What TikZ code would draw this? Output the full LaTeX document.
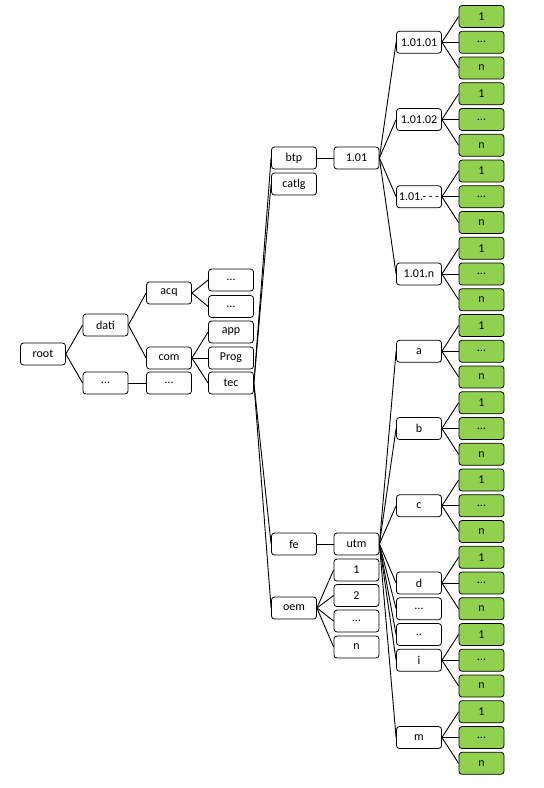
\documentclass[tikz,border=0pt]{standalone}
\usepackage{fontspec}
\setmainfont{Carlito}
\definecolor{leafgreen}{HTML}{92D050}
\tikzset{
  box/.style={rectangle, draw, rounded corners=3pt, line width=0.8pt, minimum width=45pt, minimum height=22pt, inner sep=1pt, font=\fontsize{12}{14}\selectfont},
  leaf/.style={box, fill=leafgreen},
  link/.style={line width=0.9pt}
}

\begin{document}
\begin{tikzpicture}[x=1pt, y=-1pt]
\useasboundingbox (0,0) rectangle (544,788);

% left part of the tree
\node[box] (root) at (43,354) {root};
\node[box] (dati) at (105.5,325) {dati};
\node[box] (rdots) at (105.5,383) {\dots};
\node[box] (acq) at (169,293) {acq};
\node[box] (com) at (169,358) {com};
\node[box] (ddots) at (169,383) {\dots};
\node[box] (acqa) at (231,280) {\dots};
\node[box] (acqb) at (231,306.5) {\dots};
\node[box] (app) at (231,332) {app};
\node[box] (prog) at (231,358) {Prog};
\node[box] (tec) at (231,383) {tec};

\node[box] (btp) at (294,158) {btp};
\node[box] (catlg) at (294,184) {catlg};
\node[box] (fe) at (294,544) {fe};
\node[box] (oem) at (294,608) {oem};

\node[box] (v101) at (356.5,158) {1.01};
\node[box] (utm) at (356.5,544) {utm};
\node[box] (oem1) at (356.5,570) {1};
\node[box] (oem2) at (356.5,595.5) {2};
\node[box] (oem3) at (356.5,621) {\dots};
\node[box] (oemn) at (356.5,647) {n};

% third level under 1.01 and utm
\node[box] (v1) at (419,42.25) {1.01.01};
\node[box] (v2) at (419,119.5) {1.01.02};
\node[box] (v3) at (419,196.75) {1.01.- - -};
\node[box] (vn) at (419,274) {1.01.n};
\node[box] (ua) at (419,351.25) {a};
\node[box] (ub) at (419,428.5) {b};
\node[box] (uc) at (419,505.75) {c};
\node[box] (ud) at (419,583) {d};
\node[box] (ud1) at (419,608.75) {\dots};
\node[box] (ud2) at (419,634.5) {..};
\node[box] (ui) at (419,660.25) {i};
\node[box] (um) at (419,737.5) {m};

\draw[link] (root.east) -- (dati.west); \draw[link] (root.east) -- (rdots.west);
\draw[link] (dati.east) -- (acq.west); \draw[link] (dati.east) -- (com.west);
\draw[link] (rdots.east) -- (ddots.west);
\draw[link] (acq.east) -- (acqa.west); \draw[link] (acq.east) -- (acqb.west);
\draw[link] (com.east) -- (app.west); \draw[link] (com.east) -- (prog.west); \draw[link] (com.east) -- (tec.west);
\draw[link] (tec.east) -- (btp.west); \draw[link] (tec.east) -- (catlg.west);
\draw[link] (tec.east) -- (fe.west); \draw[link] (tec.east) -- (oem.west);
\draw[link] (btp.east) -- (v101.west); \draw[link] (fe.east) -- (utm.west);
\draw[link] (oem.east) -- (oem1.west); \draw[link] (oem.east) -- (oem2.west);
\draw[link] (oem.east) -- (oem3.west); \draw[link] (oem.east) -- (oemn.west);
\draw[link] (v101.east) -- (v1.west); \draw[link] (v101.east) -- (v2.west);
\draw[link] (v101.east) -- (v3.west); \draw[link] (v101.east) -- (vn.west);
\draw[link] (utm.east) -- (ua.west); \draw[link] (utm.east) -- (ub.west);
\draw[link] (utm.east) -- (uc.west); \draw[link] (utm.east) -- (ud.west);
\draw[link] (utm.east) -- (ud1.west); \draw[link] (utm.east) -- (ud2.west);
\draw[link] (utm.east) -- (ui.west); \draw[link] (utm.east) -- (um.west);

% green leaves
\foreach \p [count=\j from 0] in {v1,v2,v3,vn,ua,ub,uc,ud,ui,um}
  \foreach \t/\s [count=\k from 0] in {1/a, \dots/b, n/c} {
    \node[leaf] (\p\s) at (481.5, {42.25+77.25*\j+25.75*(\k-1)}) {\t};
    \draw[link] (\p.east) -- (\p\s.west);
  }
\end{tikzpicture}
\end{document}
